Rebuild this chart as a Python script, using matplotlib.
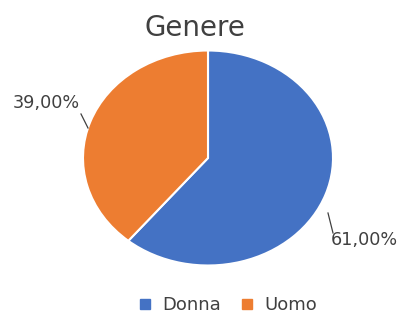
import matplotlib
matplotlib.use("Agg")
import matplotlib.pyplot as plt
from matplotlib.lines import Line2D

categories = ["Donna", "Uomo"]
values = [61.0, 39.0]
labels = ["61,00%", "39,00%"]
colors = ["#4472C4", "#ED7D31"]

plt.rcParams["font.family"] = ["DejaVu Sans"]
TXT = "#404040"

W, H = 399, 323
fig = plt.figure(figsize=(W / 100, H / 100), dpi=100)

# pie box in pixels (from top-left); the source image is a bit stretched sideways
cx, cy, rx, ry = 208, 158, 125, 107.5
ax = fig.add_axes([(cx - rx) / W, (H - cy - ry) / H, 2 * rx / W, 2 * ry / H])
wedges, _ = ax.pie(values, colors=colors, startangle=90, counterclock=False,
                   wedgeprops=dict(edgecolor="white", linewidth=1.5))
ax.set_aspect("auto")
ax.set_xlim(-1, 1)
ax.set_ylim(-1, 1)
ax.axis("off")


def px(x, y):
    # pixel position -> pie data coords
    return (x - cx) / rx, (cy - y) / ry


# data labels with leader lines
(x0, y0), (x1, y1) = px(328, 213), px(333, 233)
ax.plot([x0, x1], [y0, y1], color=TXT, lw=0.9, clip_on=False)
tx, ty = px(331, 240)
ax.text(tx, ty, labels[0], ha="left", va="center", fontsize=12.7, color=TXT)

(x0, y0), (x1, y1) = px(88, 128), px(81, 114)
ax.plot([x0, x1], [y0, y1], color=TXT, lw=0.9, clip_on=False)
tx, ty = px(46.5, 103)
ax.text(tx, ty, labels[1], ha="center", va="center", fontsize=12.7, color=TXT)

fig.text(195 / W, 1 - 28 / H, "Genere", ha="center", va="center", fontsize=20, color=TXT)

handles = [Line2D([], [], marker="s", linestyle="none", markersize=6.5, color=c) for c in colors]
fig.legend(handles, categories, loc="center", bbox_to_anchor=(222 / W, 1 - 305 / H),
           ncol=2, frameon=False, fontsize=13, handletextpad=0.0, columnspacing=0.4,
           labelcolor=TXT)

fig.savefig("out.png", dpi=100)
